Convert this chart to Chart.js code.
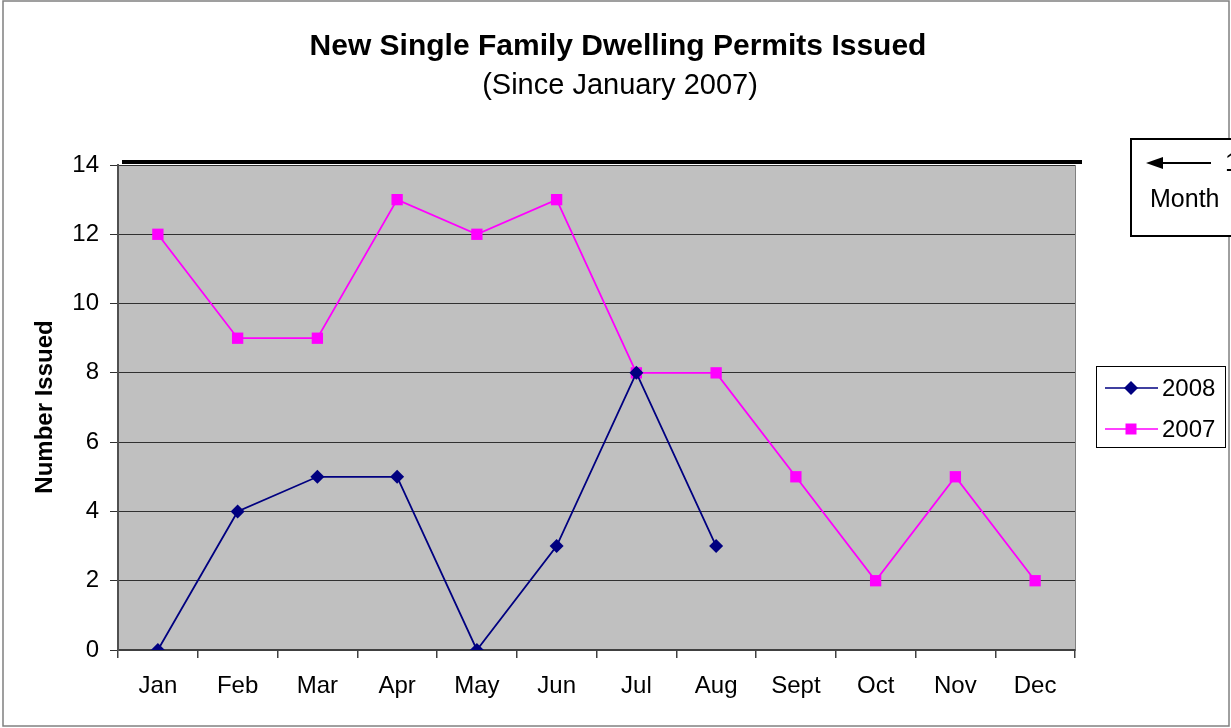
<!DOCTYPE html>
<html>
<head>
<meta charset="utf-8">
<script src="https://cdn.jsdelivr.net/npm/chart.js@4/dist/chart.umd.min.js"></script>
<style>
  html, body { margin: 0; padding: 0; background: #fff; }
  #wrap { width: 1231px; height: 728px; position: relative; }
</style>
</head>
<body>
<div id="wrap"><canvas id="permits" width="1231" height="728"></canvas></div>
<script>
const months = ['Jan', 'Feb', 'Mar', 'Apr', 'May', 'Jun', 'Jul', 'Aug', 'Sept', 'Oct', 'Nov', 'Dec'];
const permits2008 = [0, 4, 5, 5, 0, 3, 8, 3, null, null, null, null];
const permits2007 = [12, 9, 9, 13, 12, 13, 8, 8, 5, 2, 5, 2];
const yTicks = [0, 2, 4, 6, 8, 10, 12, 14];

const FONT = 'Arial, "Liberation Sans", sans-serif';

// gray plot background, frame, titles, legend and the cut-off note box
const decor = {
  id: 'decor',
  beforeDraw(chart) {
    const { ctx, chartArea: a } = chart;
    ctx.save();
    ctx.fillStyle = '#c0c0c0';
    ctx.fillRect(a.left, a.top, a.right - a.left, a.bottom - a.top);
    ctx.strokeStyle = '#808080';
    ctx.lineWidth = 1;
    ctx.strokeRect(a.left + 0.5, a.top + 0.5, a.right - a.left, a.bottom - a.top);
    ctx.restore();
  },
  afterDraw(chart) {
    const { ctx } = chart;
    ctx.save();
    // outer frame
    ctx.strokeStyle = '#808080';
    ctx.lineWidth = 1.5;
    ctx.strokeRect(3, 1, 1226, 725);

    // titles
    ctx.fillStyle = '#000';
    ctx.textAlign = 'center';
    ctx.textBaseline = 'middle';
    ctx.font = 'bold 30px ' + FONT;
    ctx.fillText('New Single Family Dwelling Permits Issued', 618, 47);
    ctx.font = '29px ' + FONT;
    ctx.fillText('(Since January 2007)', 620, 86);

    // thick line along the top of the plot
    ctx.strokeStyle = '#000';
    ctx.lineWidth = 4;
    ctx.beginPath();
    ctx.moveTo(122, 162);
    ctx.lineTo(1082, 162);
    ctx.stroke();

    // note box cut off at the right edge
    ctx.lineWidth = 2;
    ctx.fillStyle = '#fff';
    ctx.fillRect(1131, 139, 110, 97);
    ctx.strokeRect(1131, 139, 110, 97);
    ctx.beginPath();
    ctx.moveTo(1160, 163);
    ctx.lineTo(1211, 163);
    ctx.stroke();
    ctx.fillStyle = '#000';
    ctx.beginPath();
    ctx.moveTo(1146, 163);
    ctx.lineTo(1163, 157);
    ctx.lineTo(1163, 169);
    ctx.closePath();
    ctx.fill();
    ctx.font = '25px ' + FONT;
    ctx.textAlign = 'left';
    ctx.fillText('1', 1225, 164);
    ctx.fillText('Month', 1150, 200);

    // legend
    ctx.lineWidth = 1;
    ctx.strokeStyle = '#000';
    ctx.fillStyle = '#fff';
    ctx.fillRect(1096.5, 366.5, 129, 81);
    ctx.strokeRect(1096.5, 366.5, 129, 81);
    const items = [
      { label: '2008', color: '#000080', y: 388, shape: 'diamond' },
      { label: '2007', color: '#ff00ff', y: 429, shape: 'square' }
    ];
    items.forEach(it => {
      ctx.strokeStyle = it.color;
      ctx.lineWidth = 1.5;
      ctx.beginPath();
      ctx.moveTo(1105, it.y);
      ctx.lineTo(1158, it.y);
      ctx.stroke();
      ctx.fillStyle = it.color;
      ctx.beginPath();
      if (it.shape === 'diamond') {
        ctx.moveTo(1131, it.y - 7);
        ctx.lineTo(1138, it.y);
        ctx.lineTo(1131, it.y + 7);
        ctx.lineTo(1124, it.y);
        ctx.closePath();
      } else {
        ctx.rect(1125.5, it.y - 5.5, 11, 11);
      }
      ctx.fill();
      ctx.fillStyle = '#000';
      ctx.font = '24px ' + FONT;
      ctx.textAlign = 'left';
      ctx.fillText(it.label, 1162, it.y + 1);
    });

    // y axis title
    ctx.translate(45, 407);
    ctx.rotate(-Math.PI / 2);
    ctx.textAlign = 'center';
    ctx.font = 'bold 24px ' + FONT;
    ctx.fillText('Number Issued', 0, 0);
    ctx.restore();
  }
};

new Chart(document.getElementById('permits'), {
  type: 'line',
  data: {
    labels: months,
    datasets: [{
      label: '2008',
      data: permits2008,
      borderColor: '#000080',
      backgroundColor: '#000080',
      borderWidth: 1.8,
      pointStyle: 'rectRot',
      pointRadius: 7,
      pointBorderWidth: 0,
      tension: 0,
      spanGaps: false
    }, {
      label: '2007',
      data: permits2007,
      borderColor: '#ff00ff',
      backgroundColor: '#ff00ff',
      borderWidth: 1.8,
      pointStyle: 'rect',
      pointRadius: 8,
      pointBorderWidth: 0,
      tension: 0
    }]
  },
  options: {
    responsive: false,
    animation: false,
    layout: { padding: { left: 0, top: 165, right: 156, bottom: 0 } },
    plugins: {
      legend: { display: false },
      title: { display: false },
      tooltip: { enabled: false }
    },
    scales: {
      x: {
        offset: true,
        afterFit(scale) { scale.height = 78; },
        grid: {
          offset: true,
          drawOnChartArea: false,
          tickLength: 8,
          color: '#404040',
          lineWidth: 1.5
        },
        border: { color: '#404040', width: 2 },
        ticks: {
          color: '#000',
          padding: 14,
          maxRotation: 0,
          font: { family: FONT, size: 24 }
        }
      },
      y: {
        min: 0,
        max: 14,
        afterFit(scale) { scale.width = 118; },
        afterBuildTicks(scale) { scale.ticks = yTicks.map(v => ({ value: v })); },
        grid: {
          color: '#303030',
          lineWidth: 1,
          tickLength: 8
        },
        border: { color: '#505050', width: 2 },
        ticks: {
          color: '#000',
          padding: 11,
          font: { family: FONT, size: 24 }
        }
      }
    }
  },
  plugins: [decor]
});
</script>
</body>
</html>
